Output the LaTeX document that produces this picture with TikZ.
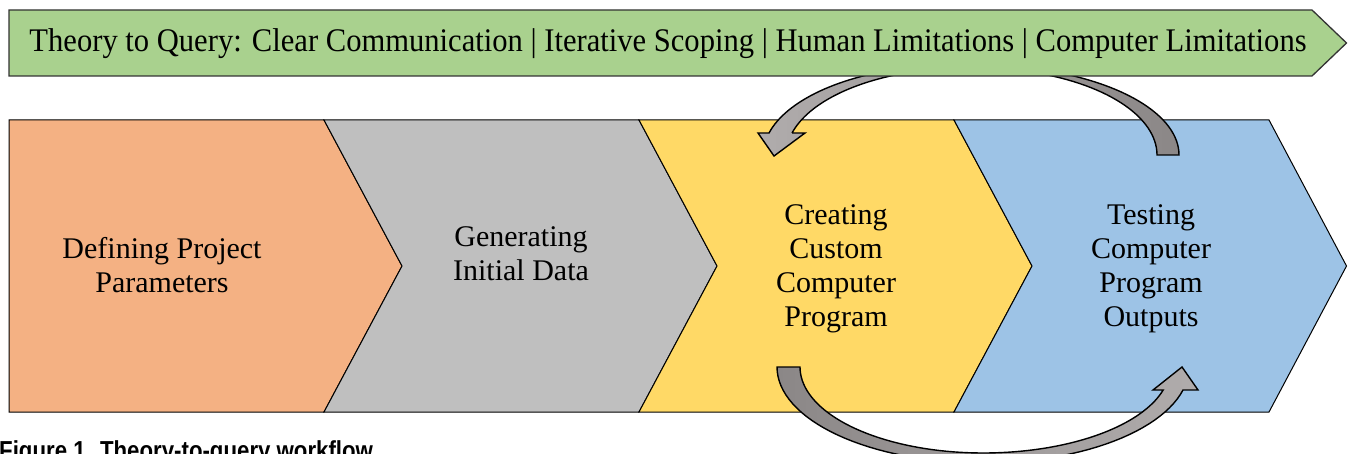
\documentclass[tikz,border=0pt]{standalone}
\usepackage{fontspec}
\setmainfont{Liberation Serif}
\newfontfamily\capfont{Liberation Sans}
\definecolor{bannergreen}{HTML}{A9D18E}
\definecolor{stepA}{HTML}{F4B183}
\definecolor{stepB}{HTML}{BFBFBF}
\definecolor{stepC}{HTML}{FFD966}
\definecolor{stepD}{HTML}{9DC3E6}
\definecolor{loopdark}{HTML}{8B8787}
\definecolor{looplight}{HTML}{B0ACAC}
\tikzset{
  stepshape/.style={draw=black, line width=1pt, line join=miter},
  steptext/.style={font=\fontsize{30}{34}\selectfont, align=center, text=black, inner sep=0pt},
  loopband/.style={draw=black, line width=1.4pt, line join=miter},
  bannershape/.style={draw=black!80, fill=bannergreen, line width=1.3pt, line join=miter},
  bannertext/.style={font=\fontsize{33}{38}\selectfont, inner sep=0pt, text=black},
}
\begin{document}
\begin{tikzpicture}[x=1pt,y=-1pt]
\useasboundingbox (0,0) rectangle (1348,454);
\clip (0,0) rectangle (1348,454);

% process chevrons
\draw[stepshape, fill=stepA] (9,120) -- (324,120) -- (402,266) -- (324,412) -- (9,412) -- cycle;
\draw[stepshape, fill=stepB] (324,120) -- (639,120) -- (717,266) -- (639,412) -- (324,412) -- (402,266) -- cycle;
\draw[stepshape, fill=stepC] (639,120) -- (954,120) -- (1032,266) -- (954,412) -- (639,412) -- (717,266) -- cycle;
\draw[stepshape, fill=stepD] (954,120) -- (1269,120) -- (1346.5,266) -- (1269,412) -- (954,412) -- (1032,266) -- cycle;

\node[steptext] (define) at (162,265) {Defining Project\\Parameters};
\node[steptext] (generate) at (521,254) {Generating\\Initial Data};
\node[steptext] (create) at (836,269) {Creating\\Custom\\Computer\\Program};
\node[steptext] (test) at (1151,269) {Testing\\Computer\\Program\\Outputs};

% feedback loop from testing back to the program (passes behind the banner)
\draw[loopband, left color=looplight, right color=loopdark]
  (1179,155)
  -- plot[domain=0:90, samples=40] ({977+202*cos(\x)},{155-90*sin(\x)})
  -- plot[domain=90:165.85, samples=40] ({954.7+191.5*cos(\x)},{155-90*sin(\x)})
  -- (758,133) -- (774,156) -- (805,133) -- (792,133)
  -- plot[domain=165.35:90, samples=40] ({965.5+179.3*cos(\x)},{155-87*sin(\x)})
  -- plot[domain=90:0, samples=40] ({977+180*cos(\x)},{155-87*sin(\x)})
  -- cycle;

% loop from the program forward to testing
\draw[loopband, left color=loopdark, right color=looplight]
  (800,367) -- (777,367)
  -- plot[domain=180:346.14, samples=60] ({983+206*cos(\x)},{367-96*sin(\x)})
  -- (1198,390) -- (1182,367) -- (1153,390) -- (1163,390)
  -- plot[domain=344.49:270, samples=40] ({983+187*cos(\x)},{367-86*sin(\x)})
  -- plot[domain=270:180, samples=40] ({983+183*cos(\x)},{367-86*sin(\x)})
  -- cycle;

% theme banner
\draw[bannershape] (9,10) -- (1312,10) -- (1346.5,43) -- (1312,76) -- (9,76) -- cycle;
\node[bannertext, anchor=base] (theme) at (668,51.7)
  {\resizebox{1277pt}{\height}{Theory to Query: Clear Communication | Iterative Scoping | Human Limitations | Computer Limitations}};

% caption
\node[anchor=base west, inner sep=0pt, font=\capfont\bfseries\fontsize{26}{30}\selectfont] (caption) at (-1,459)
  {\scalebox{0.855}[1]{Figure 1. Theory-to-query workflow}};
\end{tikzpicture}
\end{document}
